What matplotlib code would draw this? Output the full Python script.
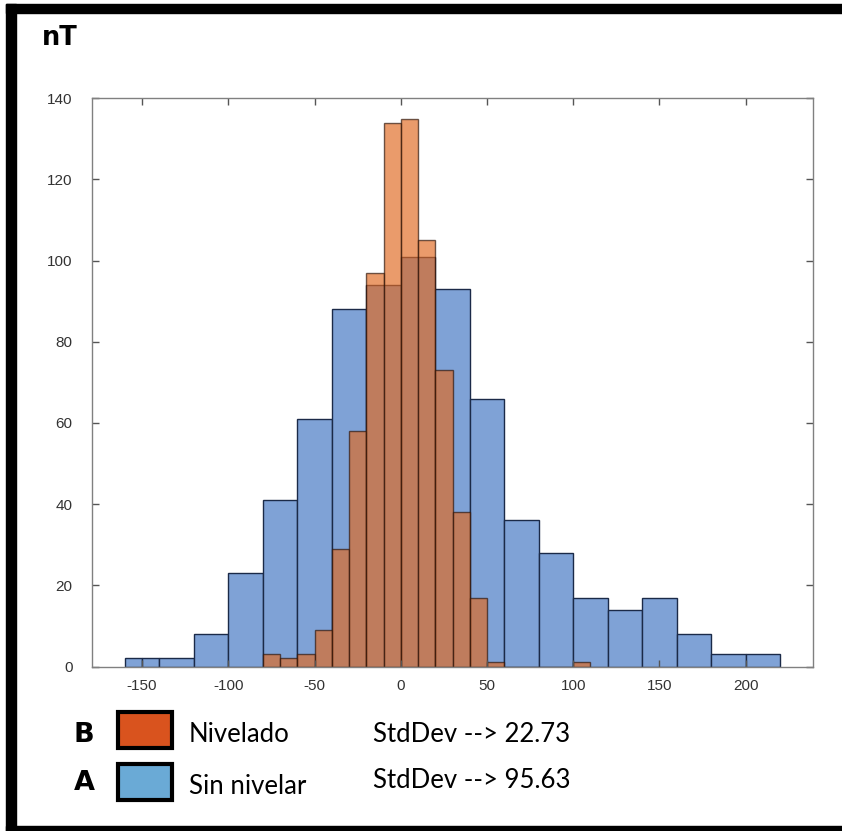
import numpy as np
import matplotlib
matplotlib.use('Agg')
import matplotlib.pyplot as plt
from matplotlib.patches import Rectangle

plt.rcParams['axes.unicode_minus'] = False

# counts
blue_edges = [-160, -150, -140, -120, -100, -80, -60, -40, -20, 0, 20, 40, 60,
              80, 100, 120, 140, 160, 180, 200, 220]
blue_counts = [2, 2, 2, 8, 23, 41, 61, 88, 94, 101, 93, 66, 36, 28, 17, 14, 17,
               8, 3, 3]
red_edges = [-80, -70, -60, -50, -40, -30, -20, -10, 0, 10, 20, 30, 40, 50, 60,
             70, 80, 90, 100, 110]
red_counts = [3, 2, 3, 9, 29, 58, 97, 134, 135, 105, 73, 38, 17, 1, 0, 0, 0, 0, 1]

x_ticks = [-150, -100, -50, 0, 50, 100, 150, 200]
y_ticks = [0, 20, 40, 60, 80, 100, 120, 140]

legend_tags = ['B', 'A']
legend_names = ['Nivelado', 'Sin nivelar']
legend_std = ['22.73', '95.63']
legend_colors = ['#D9531E', '#6AAAD6']

W, H = 842, 831


def fx(px):
    return px / W


def fy(py):
    return 1 - py / H


fig = plt.figure(figsize=(W / 100, H / 100), dpi=100)

# black frame (top, left, bottom)
for x0, y0, x1, y1 in [(6, 4, 842, 12.7), (6, 4, 16, 831), (6, 826, 842, 831)]:
    fig.patches.append(Rectangle((fx(x0), fy(y1)), fx(x1) - fx(x0), fy(y0) - fy(y1),
                                 transform=fig.transFigure, color='black', zorder=0))

ax = fig.add_axes([fx(92), fy(666.5), fx(813) - fx(92), fy(98.3) - fy(666.5)])
ax.bar(blue_edges[:-1], blue_counts, width=np.diff(blue_edges), align='edge',
       color='#7FA2D6', edgecolor='#1B2A48', linewidth=1)
ax.bar(red_edges[:-1], red_counts, width=np.diff(red_edges), align='edge',
       color='#E06A22', alpha=0.67, edgecolor='#2A1208', linewidth=1)

ax.set_xlim(-179, 239)
ax.set_ylim(0, 140)
ax.set_xticks(x_ticks)
ax.set_yticks(y_ticks)
ax.tick_params(direction='in', top=True, right=True, length=5, width=1,
               color='#555555', labelsize=11, labelcolor='#333333')
ax.tick_params(axis='x', pad=9)
ax.tick_params(axis='y', pad=14)
for lab in ax.get_xticklabels() + ax.get_yticklabels():
    lab.set_fontfamily('Liberation Sans')
for sp in ax.spines.values():
    sp.set_color('#808080')
    sp.set_linewidth(1)

fig.text(fx(42), fy(38), 'nT', fontsize=18.5, fontweight='bold',
         family='DejaVu Sans', va='center', ha='left')

# legend drawn by hand below the axes
rows_y = [735, 783]
name_y = [735, 787]
std_y = [735, 780]
for i in range(2):
    fig.text(fx(84), fy(rows_y[i]), legend_tags[i], fontsize=19.5,
             fontweight='bold', family='DejaVu Sans', ha='center', va='center')
    top = rows_y[i] - 23 if i == 0 else rows_y[i] - 19
    fig.patches.append(Rectangle((fx(118), fy(top + 36)), fx(172) - fx(118),
                                 fy(top) - fy(top + 36), transform=fig.transFigure,
                                 facecolor=legend_colors[i], edgecolor='black',
                                 linewidth=3))
    fig.text(fx(189), fy(name_y[i]), legend_names[i], fontsize=18.5,
             family='Lato', ha='left', va='center')
    fig.text(fx(373), fy(std_y[i]), 'StdDev --> ' + legend_std[i], fontsize=18.5,
             family='Lato', ha='left', va='center')

fig.savefig('out.png', dpi=100)
